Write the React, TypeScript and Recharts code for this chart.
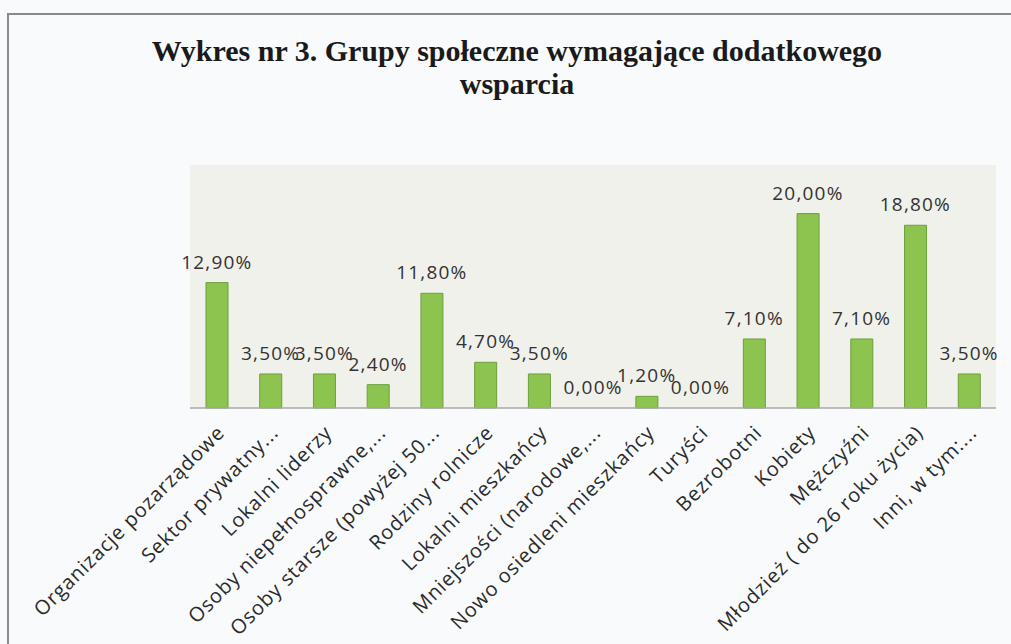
import {
  ComposedChart,
  Bar,
  Line,
  XAxis,
  YAxis,
  CartesianGrid,
  LabelList,
} from "recharts";

const categories = [
  "Organizacje pozarządowe",
  "Sektor prywatny...",
  "Lokalni liderzy",
  "Osoby niepełnosprawne,...",
  "Osoby starsze  (powyżej 50...",
  "Rodziny rolnicze",
  "Lokalni mieszkańcy",
  "Mniejszości (narodowe,...",
  "Nowo osiedleni mieszkańcy",
  "Turyści",
  "Bezrobotni",
  "Kobiety",
  "Mężczyźni",
  "Młodzież ( do 26 roku życia)",
  "Inni, w tym:...",
];

const shares = [12.9, 3.5, 3.5, 2.4, 11.8, 4.7, 3.5, 0, 1.2, 0, 7.1, 20, 7.1, 18.8, 3.5];

const chartData = categories.map((name, i) => ({ name, value: shares[i] }));

const labelFont = "'Open Sans', 'DejaVu Sans', sans-serif";

// eslint-disable-next-line @typescript-eslint/no-explicit-any
const AngledTick = (props: any) => {
  const { x, y, payload } = props;
  const ax = x + 9;
  const ay = y + 18;
  return (
    <text
      x={ax}
      y={ay}
      transform={`rotate(-45, ${ax}, ${ay})`}
      textAnchor="end"
      fontFamily={labelFont}
      fontSize={20}
      letterSpacing={0.9}
      fill="#2b2b2b"
    >
      {payload.value}
    </text>
  );
};

const formatPct = (v: unknown) =>
  `${Number(v).toFixed(2).replace(".", ",")}%`;

export default function App() {
  return (
    <div
      style={{
        position: "fixed",
        left: 0,
        top: 0,
        width: 1011,
        height: 644,
        background: "#f8fafb",
        overflow: "hidden",
      }}
    >
      <div
        style={{
          position: "absolute",
          left: 7,
          top: 13,
          width: 1020,
          height: 660,
          borderLeft: "2px solid #8a8a8a",
          borderTop: "2px solid #8a8a8a",
        }}
      />
      <div
        style={{
          position: "absolute",
          left: 0,
          top: 34,
          width: 1034,
          textAlign: "center",
          fontFamily: "'Liberation Serif', serif",
          fontWeight: 700,
          fontSize: 30,
          lineHeight: "33px",
          color: "#1a1a1a",
        }}
      >
        Wykres nr 3. Grupy społeczne wymagające dodatkowego
        <br />
        wsparcia
      </div>
      <div style={{ position: "absolute", left: 0, top: 0 }}>
        <ComposedChart
          width={1011}
          height={644}
          data={chartData}
          margin={{ top: 165, right: 15, left: 190, bottom: 6 }}
          barSize={22}
        >
          <CartesianGrid horizontal={false} vertical={false} fill="#f0f1ea" />
          <YAxis hide domain={[0, 25]} />
          <XAxis
            dataKey="name"
            interval={0}
            height={230}
            tickLine={false}
            axisLine={{ stroke: "#a9a9a9", strokeWidth: 1.5 }}
            tick={<AngledTick />}
          />
          <Bar
            dataKey="value"
            fill="#8cc44f"
            stroke="#6f9e3c"
            strokeWidth={1}
            isAnimationActive={false}
          />
          {/* invisible line only carries the value labels, so 0% gets one too */}
          <Line
            dataKey="value"
            stroke="none"
            dot={false}
            activeDot={false}
            isAnimationActive={false}
          >
            <LabelList
              dataKey="value"
              position="top"
              offset={14}
              formatter={formatPct}
              style={{
                fontFamily: labelFont,
                fontSize: 19,
                letterSpacing: 1.2,
                fill: "#333333",
              }}
            />
          </Line>
        </ComposedChart>
      </div>
    </div>
  );
}
